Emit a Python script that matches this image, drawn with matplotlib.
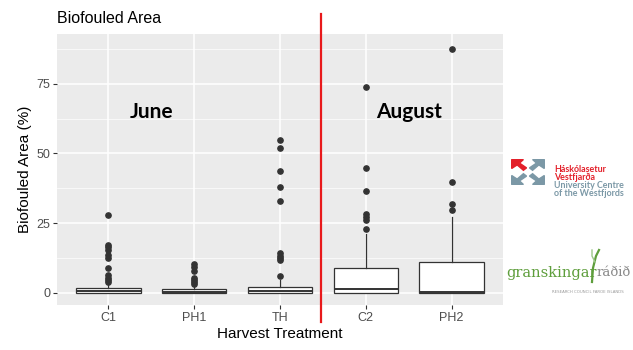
import matplotlib.pyplot as plt
from matplotlib.patches import Polygon
from matplotlib.lines import Line2D

# box stats
groups = ['C1', 'PH1', 'TH', 'C2', 'PH2']
q1 = [0, 0, 0, 0, 0]
med = [0.5, 0.3, 0.5, 1.2, 0.1]
q3 = [1.8, 1.2, 2.0, 8.9, 11.2]
whis_hi = [3.0, 2.5, 4.4, 21.0, 27.2]
outliers = [
    [28, 17.2, 16.3, 15.5, 13.7, 12.3, 8.9, 6.3, 5.3, 4.5, 3.9],
    [10.5, 9.3, 7.9, 5.4, 4.6, 3.8, 3.0],
    [55, 51.8, 43.6, 37.8, 32.8, 14.2, 13.3, 12.5, 11.8, 6.0],
    [73.9, 44.9, 36.7, 28.1, 27.3, 26.0, 22.8],
    [87.6, 39.7, 32.0, 29.6],
]
months = ['June', 'August']
month_x = [1.5, 4.5]

fig = plt.figure(figsize=(6.33, 3.5), dpi=100)
ax = fig.add_axes([57/633, 45/350, 446/633, 271/350])
ax.set_facecolor('#EBEBEB')
for s in ax.spines.values():
    s.set_visible(False)

stats = []
for i in range(len(groups)):
    stats.append(dict(q1=q1[i], med=med[i], q3=q3[i], whislo=q1[i],
                      whishi=whis_hi[i], fliers=outliers[i], label=groups[i]))
ax.bxp(stats, positions=range(1, 6), widths=0.75, patch_artist=True,
       boxprops=dict(facecolor='white', edgecolor='#333333', linewidth=0.9),
       medianprops=dict(color='#333333', linewidth=1.4),
       whiskerprops=dict(color='#333333', linewidth=0.9),
       capprops=dict(linewidth=0),
       flierprops=dict(marker='o', markerfacecolor='#333333',
                       markeredgecolor='#333333', markersize=3.8))

ax.set_xlim(0.4, 5.6)
ax.set_ylim(-4.4, 92.9)
ax.set_yticks([0, 25, 50, 75])
ax.set_yticks([12.5, 37.5, 62.5, 87.5], minor=True)
ax.set_axisbelow(True)
ax.grid(True, which='major', color='white', linewidth=1.1)
ax.grid(True, which='minor', axis='y', color='white', linewidth=0.5)
ax.tick_params(which='major', length=3, color='#333333', labelcolor='#4D4D4D',
               labelsize=9, pad=2)
ax.tick_params(which='minor', length=0)
for lab in ax.get_xticklabels() + ax.get_yticklabels():
    lab.set_family('Liberation Sans')

ax.set_xlabel('Harvest Treatment', fontsize=11, family='Liberation Sans', labelpad=2)
ax.set_ylabel('Biofouled Area (%)', fontsize=11, family='Liberation Sans', labelpad=3)
ax.set_title('Biofouled Area', loc='left', fontsize=11.5, family='Liberation Sans',
             pad=8, x=0.0)

ax.axvline(3.48, ymin=-0.063, ymax=1.074, color='#E8191B', linewidth=1.6, clip_on=False)

for m, xm in zip(months, month_x):
    ax.text(xm, 65, m, fontsize=15, fontweight='bold', family='Lato',
            ha='center', va='center', color='black')

# logos (approximation)
lg = fig.add_axes([511/633, 165/350, 34/633, 26/350])
lg.set_xlim(0, 2)
lg.set_ylim(0, 2)
lg.axis('off')
teal = '#7B98A6'
arrow = [(0, 1), (0, 0.25), (0.35, 0.55), (0.75, 0.1), (0.95, 0.3), (0.5, 0.7), (0.75, 1)]
for dx, dy, fx, fy, c in [(0, 1, 1, 1, '#E3202A'), (1, 1, -1, 1, teal),
                          (0, 0, 1, -1, teal), (1, 0, -1, -1, teal)]:
    pts = []
    for px, py in arrow:
        xx = px if fx > 0 else 1 - px
        yy = py if fy > 0 else 1 - py
        pts.append((dx + xx * 0.92 + 0.04, dy + yy * 0.92 + 0.04))
    lg.add_patch(Polygon(pts, closed=True, color=c))

logo_lines = ['Háskólasetur', 'Vestfjarða', 'University Centre', 'of the Westfjords']
logo_cols = ['#E3202A', '#E3202A', teal, teal]
for k, (t, c) in enumerate(zip(logo_lines, logo_cols)):
    fig.text(554/633, 1 - (169 + 8.3 * k)/350, t, fontsize=6.4, fontweight='bold',
             color=c, va='center', family='Lato')

fig.text(506/633, 1 - 273/350, 'granskingar', fontsize=10.5, color='#5E9E3C',
         va='center', family='DejaVu Serif')
fig.text(597/633, 1 - 273/350, 'ráðið', fontsize=9.5, color='#8A8A8A',
         va='center', family='DejaVu Serif')
fig.add_artist(Line2D([592/633, 593/633, 596/633, 599/633],
                      [1 - 282/350, 1 - 268/350, 1 - 256/350, 1 - 250/350],
                      color='#5E9E3C', linewidth=1.6))
fig.add_artist(Line2D([595/633, 592/633, 592/633],
                      [1 - 262/350, 1 - 256/350, 1 - 250/350],
                      color='#9CC88A', linewidth=1.0))
fig.text(552/633, 1 - 292/350, 'RESEARCH COUNCIL FAROE ISLANDS', fontsize=2.8,
         color='#999999', va='center', family='DejaVu Sans')

fig.savefig('out.png', dpi=100)
